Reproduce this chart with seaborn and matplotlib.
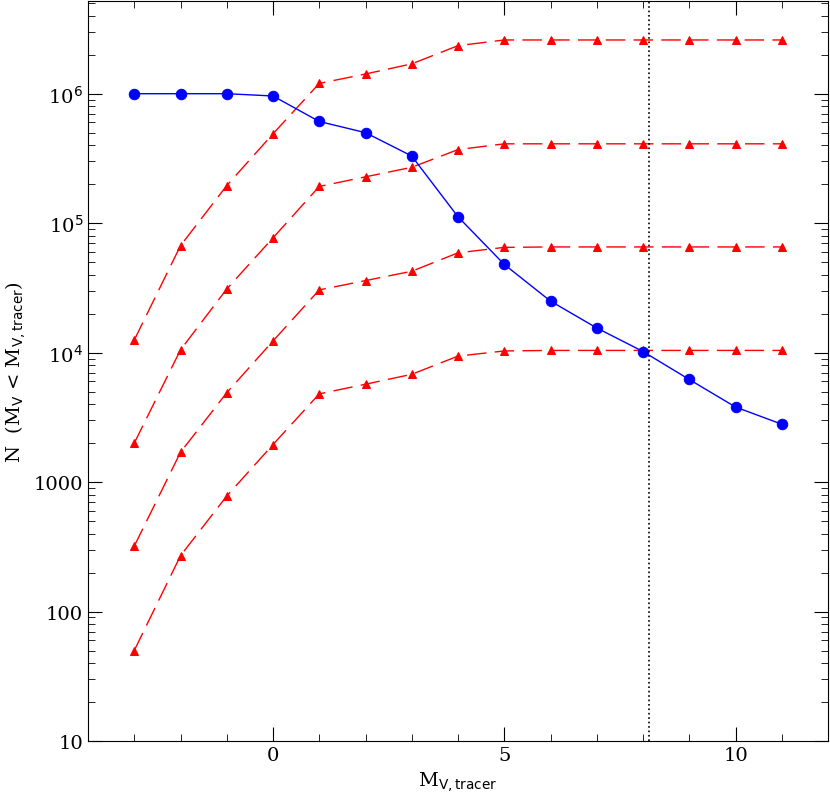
import matplotlib
matplotlib.use("Agg")
import matplotlib.pyplot as plt
import seaborn as sns
import pandas as pd
from matplotlib.ticker import FixedLocator, FixedFormatter, AutoMinorLocator, LogLocator, NullFormatter

mv = [-3, -2, -1, 0, 1, 2, 3, 4, 5, 6, 7, 8, 9, 10, 11]
blue = [1e6, 1e6, 1e6, 9.6e5, 6.1e5, 5.0e5, 3.3e5, 1.12e5, 4.8e4, 2.5e4, 1.55e4, 1.02e4, 6.2e3, 3.8e3, 2.8e3]
red1 = [50, 270, 780, 1950, 4800, 5700, 6800, 9400, 10300, 10400, 10400, 10400, 10400, 10400, 10400]
red2 = [320, 1700, 4900, 12300, 30500, 36000, 42500, 59000, 65000, 65500, 65500, 65500, 65500, 65500, 65500]
red3 = [2000, 10500, 31000, 77000, 1.92e5, 2.28e5, 2.7e5, 3.7e5, 4.1e5, 4.1e5, 4.1e5, 4.1e5, 4.1e5, 4.1e5, 4.1e5]
red4 = [12500, 67000, 1.95e5, 4.9e5, 1.2e6, 1.42e6, 1.7e6, 2.35e6, 2.6e6, 2.6e6, 2.6e6, 2.6e6, 2.6e6, 2.6e6, 2.6e6]
vline_x = 8.12

plt.rcParams["font.family"] = "DejaVu Serif"
fig = plt.figure(figsize=(8.30, 8.12), dpi=100)
ax = fig.add_axes([88/830, 70/812, 740/830, 740/812])

for r in [red1, red2, red3, red4]:
    df = pd.DataFrame({"x": mv, "y": r})
    sns.lineplot(data=df, x="x", y="y", ax=ax, color="red", lw=1.0,
                 dashes=False, linestyle=(0, (14, 6)), marker="^", markersize=6,
                 markeredgecolor="red", markerfacecolor="red")
sns.lineplot(data=pd.DataFrame({"x": mv, "y": blue}), x="x", y="y", ax=ax,
             color="blue", lw=1.0, marker="o", markersize=7.5, markeredgecolor="blue")
ax.axvline(vline_x, color="black", ls=":", lw=1.2)

ax.set_yscale("log")
ax.set_xlim(-4, 12)
ax.set_ylim(10, 5.2e6)
ax.set_xticks([0, 5, 10])
ax.xaxis.set_minor_locator(AutoMinorLocator(5))
ax.yaxis.set_major_locator(FixedLocator([10, 100, 1000, 1e4, 1e5, 1e6]))
ax.yaxis.set_major_formatter(FixedFormatter(["10", "100", "1000", r"10$^4$", r"10$^5$", r"10$^6$"]))
ax.yaxis.set_minor_locator(LogLocator(subs=range(2, 10)))
ax.yaxis.set_minor_formatter(NullFormatter())
ax.tick_params(which="both", direction="in", top=True, right=True, labelsize=14)
ax.tick_params(which="major", length=10)
ax.tick_params(which="minor", length=5)
ax.set_xlabel(r"M$_{\rm V,tracer}$", fontsize=14)
ax.set_ylabel(r"N  (M$_{\rm V}$ < M$_{\rm V,tracer}$)", fontsize=14)
fig.savefig("out.png", dpi=100)
